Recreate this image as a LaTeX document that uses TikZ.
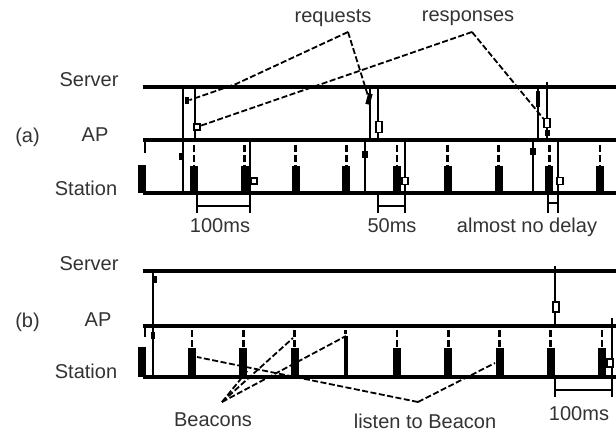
\documentclass[tikz,border=0pt]{standalone}
\usepackage{fontspec}
\setmainfont{Liberation Sans}
\begin{document}
\begin{tikzpicture}[x=1pt,y=-1pt,
  timeline/.style={line width=4.2pt},
  msg/.style={line width=1.7pt},
  beacondash/.style={line width=2.8pt, dash pattern=on 7pt off 3pt},
  callout/.style={line width=1.8pt, dash pattern=on 6pt off 2.5pt},
  hollowmark/.style={draw, fill=white, line width=1.2pt, inner sep=0pt,
    minimum width=5pt, minimum height=8pt, rectangle},
  solidmark/.style={fill=black, inner sep=0pt, minimum width=4.5pt, minimum height=7pt},
  bracket/.style={line width=1.7pt},
  lbl/.style={font=\fontsize{20}{24}\selectfont, text=black!80, inner sep=0pt, anchor=base},
]
\useasboundingbox[fill=white] (0,0) rectangle (616,433);

% ---------------- (a) continuous polling ----------------
\node[lbl] (aServer)  at (89,87)  {Server};
\node[lbl] (aAP)      at (95,142) {AP};
\node[lbl] (aTag)     at (27.5,143) {(a)};
\node[lbl] (aStation) at (86,196) {Station};

% beacons: dashed wake-up line and awake period
\foreach \i in {0,...,8}{
  \pgfmathsetmacro\bx{194+50.75*\i}
  \draw[beacondash] (\bx,145) -- (\bx,166);
  \fill (\bx-4,166) rectangle (\bx+4,193);
}
\draw[line width=2.4pt] (145,140) -- (145,153);
\fill (138,165) rectangle (146,193);

% time lines
\draw[timeline] (143,87)  -- (616,87);
\draw[timeline] (143,140) -- (616,140);
\draw[timeline] (143,193) -- (616,193);

% request 1 / response 1
\coordinate (aR1s) at (183,193); \coordinate (aR1t) at (183,87);
\draw[msg] (aR1s) -- (aR1t);
\node[solidmark] (aR1m) at (181,157) {};
\node[solidmark] (aR1n) at (187,101) {};
\coordinate (aP1s) at (195,87); \coordinate (aP1t) at (195,140);
\draw[msg] (aP1s) -- (aP1t);
\node[hollowmark, minimum width=6pt, minimum height=6pt] (aP1m) at (197,127) {};
\coordinate (aD1s) at (250,140); \coordinate (aD1t) at (250,213);
\draw[msg] (aD1s) -- (aD1t);
\node[hollowmark, minimum width=6pt, minimum height=6pt] (aD1m) at (254,181) {};

% request 2 / response 2
\coordinate (aR2s) at (365,193); \coordinate (aR2t) at (365,140);
\draw[msg] (aR2s) -- (aR2t);
\node[solidmark, minimum width=6pt, minimum height=7pt] (aR2m) at (365,155) {};
\coordinate (aR2u) at (370,140); \coordinate (aR2v) at (370,87);
\draw[msg] (aR2u) -- (aR2v);
\node[solidmark, minimum height=11pt, rotate=-15] (aR2n) at (369,99) {};
\coordinate (aP2s) at (378,87); \coordinate (aP2t) at (378,140);
\draw[msg] (aP2s) -- (aP2t);
\node[hollowmark, minimum width=6pt, minimum height=11pt] (aP2m) at (379,127) {};
\coordinate (aD2s) at (405,140); \coordinate (aD2t) at (405,213);
\draw[msg] (aD2s) -- (aD2t);
\node[hollowmark, minimum width=6pt, minimum height=7pt] (aD2m) at (405,181) {};

% request 3 / response 3
\coordinate (aR3s) at (533,193); \coordinate (aR3t) at (533,140);
\draw[msg] (aR3s) -- (aR3t);
\node[solidmark, minimum width=6pt] (aR3m) at (533,152) {};
\coordinate (aR3u) at (538,140); \coordinate (aR3v) at (538,87);
\draw[msg] (aR3u) -- (aR3v);
\node[solidmark, minimum width=4pt, minimum height=16pt] (aR3n) at (538,99) {};
\coordinate (aP3s) at (547,82); \coordinate (aP3t) at (547,140);
\draw[msg] (aP3s) -- (aP3t);
\node[hollowmark, minimum width=6pt, minimum height=9pt] (aP3m) at (547,123) {};
\node[solidmark, minimum width=5pt, minimum height=6pt] (aP3n) at (547,133) {};
\coordinate (aD3s) at (558,140); \coordinate (aD3t) at (558,213);
\draw[msg] (aD3s) -- (aD3t);
\node[hollowmark, minimum width=6pt, minimum height=7pt] (aD3m) at (560,181) {};

% delay brackets
\draw[bracket] (197,193) -- (197,213) (197,206) -- (250,206);
\draw[bracket] (378,193) -- (378,213) (378,206) -- (405,206);
\draw[bracket] (548,193) -- (548,213) (548,203) -- (558,203);
\node[lbl] (a100) at (220,232) {100ms};
\node[lbl] (a50)  at (392,232) {50ms};
\node[lbl] (aNo)  at (527,232) {almost no delay};

% call-outs
\node[lbl] (lReq)  at (333,23) {requests};
\node[lbl] (lResp) at (468,22) {responses};
\coordinate (cReq)  at (348,32);
\coordinate (cResp) at (472,32);
\draw[callout] (cReq) -- (236,84) -- (aR1n);
\draw[callout] (cReq) -- (aR2n);
\draw[callout] (cResp) -- (aP1m);
\draw[callout] (cResp) -- (aP3m);

% ---------------- (b) power saving ----------------
\node[lbl] (bServer)  at (89,270)   {Server};
\node[lbl] (bAP)      at (98,326)   {AP};
\node[lbl] (bTag)     at (27.5,327) {(b)};
\node[lbl] (bStation) at (86,378)   {Station};

\foreach \i in {0,1,2,4,5,6,7,8}{
  \pgfmathsetmacro\bx{192+51.25*\i}
  \draw[beacondash] (\bx,330) -- (\bx,348);
  \fill (\bx-4,348) rectangle (\bx+4,377);
}
% beacon slept through
\draw[beacondash] (345.75,330) -- (345.75,334);
\fill (343.75,336) rectangle (347.75,377);
\draw[line width=2.4pt] (145,326) -- (145,337);
\fill (138,347) rectangle (146,377);

\draw[timeline] (143,271) -- (616,271);
\draw[timeline] (143,326) -- (616,326);
\draw[timeline] (143,377) -- (616,377);

% request
\coordinate (bRs) at (153,377); \coordinate (bRt) at (153,271);
\draw[msg] (bRs) -- (bRt);
\node[solidmark] (bRm) at (153,335) {};
\node[solidmark] (bRn) at (155,279) {};
% response buffered at the AP
\coordinate (bPs) at (555,266); \coordinate (bPt) at (555,326);
\draw[msg] (bPs) -- (bPt);
\node[hollowmark, minimum width=6pt, minimum height=10pt] (bPm) at (556,307) {};
% delivery after the next listened beacon
\coordinate (bDs) at (612,318); \coordinate (bDt) at (612,397);
\draw[msg] (bDs) -- (bDt);
\node[hollowmark, minimum width=6pt, minimum height=8pt] (bDm) at (610,363) {};

\draw[bracket] (555,377) -- (555,397) (555,390) -- (612,390);
\node[lbl] (b100) at (579,420) {100ms};

% call-outs
\node[lbl] (lBea) at (213,426) {Beacons};
\node[lbl] (lLis) at (425,428) {listen to Beacon};
\coordinate (cBea) at (222,402);
\coordinate (cLis) at (418,402);
\coordinate (bB1) at (248,370);
\coordinate (bB2) at (293,338);
\coordinate (bB3) at (346,336);
\coordinate (bL1) at (197,357);
\coordinate (bL2) at (495,363);
\draw[callout] (cBea) -- (bB1);
\draw[callout] (cBea) -- (bB2);
\draw[callout] (cBea) -- (bB3);
\draw[callout] (cLis) -- (bL1);
\draw[callout] (cLis) -- (bL2);
\end{tikzpicture}
\end{document}
